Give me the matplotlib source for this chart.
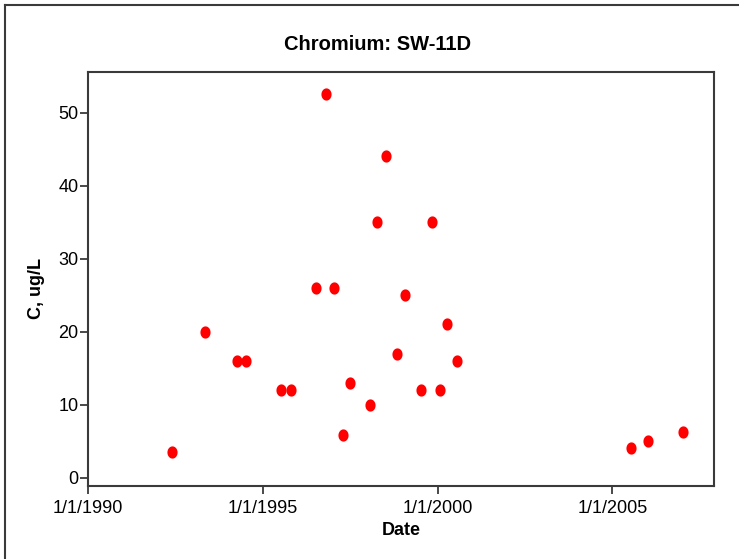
import matplotlib
matplotlib.use("Agg")
import matplotlib.pyplot as plt
from matplotlib.path import Path
from matplotlib.lines import Line2D
import numpy as np
import datetime as dt

# ---- data ----
dates = ["1992-05-30", "1993-05-05", "1994-04-05", "1994-07-09", "1995-07-09",
         "1995-10-27", "1996-07-05", "1996-10-23", "1997-01-12", "1997-04-16",
         "1997-07-05", "1998-01-23", "1998-04-13", "1998-07-12", "1998-10-30",
         "1999-01-23", "1999-07-16", "1999-10-30", "2000-01-23", "2000-04-13",
         "2000-07-27", "2005-07-16", "2006-01-12", "2007-01-12"]
values = [3.5, 20, 16, 16, 12,
          12, 26, 52.5, 26, 5.8,
          13, 10, 35, 44, 17,
          25, 12, 35, 12, 21,
          16, 4, 5, 6.3]
xtick_dates = ["1990-01-01", "1995-01-01", "2000-01-01", "2005-01-01"]
xtick_labels = ["1/1/1990", "1/1/1995", "1/1/2000", "1/1/2005"]
yticks = [0, 10, 20, 30, 40, 50]

title = "Chromium: SW-11D"
xlabel = "Date"
ylabel = "C, ug/L"

plt.rcParams['font.family'] = ['Liberation Sans', 'DejaVu Sans']

W, H = 739, 559
fig = plt.figure(figsize=(W / 100, H / 100), dpi=100)
ax = fig.add_axes([88 / W, 1 - 486 / H, (714 - 88) / W, (486 - 72) / H])

x = [dt.datetime.strptime(d, "%Y-%m-%d") for d in dates]

# slightly tall ellipse marker
t = np.linspace(0, 2 * np.pi, 60)
ell = Path(np.column_stack([0.83 * np.cos(t), np.sin(t)]), closed=True)
ax.plot(x, values, linestyle='none', marker=ell, markersize=8.8,
        color='#ff0000', markeredgewidth=0)

ax.set_xlim(dt.datetime(1990, 1, 1), dt.datetime(2007, 11, 28))
ax.set_ylim(-1.14, 55.57)

ax.set_xticks([dt.datetime.strptime(d, "%Y-%m-%d") for d in xtick_dates])
ax.set_xticklabels(xtick_labels)
ax.set_yticks(yticks)
ax.set_yticklabels([str(v) for v in yticks])

edge = '#3a3a3a'
for s in ax.spines.values():
    s.set_color(edge)
    s.set_linewidth(1.5)
ax.tick_params(axis='both', colors=edge, labelcolor='black', labelsize=13,
               length=6, width=1.3, direction='out')
ax.tick_params(axis='y', pad=1)
ax.tick_params(axis='x', pad=4)

ax.set_title(title, fontsize=14.5, fontweight='bold', x=(378 - 88) / 626, pad=16)
ax.set_xlabel(xlabel, fontsize=13, fontweight='bold', labelpad=4)
ax.set_ylabel(ylabel, fontsize=13, fontweight='bold')
ax.yaxis.set_label_coords((45 - 88) / 626, (486 - 288) / 414)

# outer frame (left and top only visible)
fig.add_artist(Line2D([5 / W, 5 / W], [0, 1 - 5 / H], transform=fig.transFigure,
                      color=edge, linewidth=1.5))
fig.add_artist(Line2D([5 / W, 1], [1 - 5 / H, 1 - 5 / H], transform=fig.transFigure,
                      color=edge, linewidth=1.5))

fig.savefig("out.png", dpi=100)
